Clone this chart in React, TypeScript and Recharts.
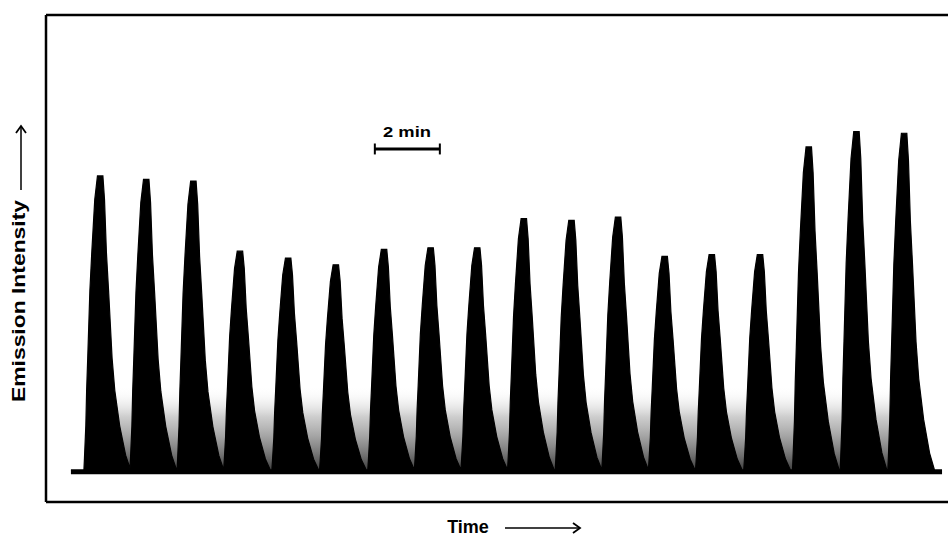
import { AreaChart, Area, XAxis, YAxis, ReferenceLine } from 'recharts';

// peak apex times (s) and heights (a.u.)
const peakTimes = [54, 139, 226, 312, 401, 489, 578, 664, 750, 836, 924, 1010, 1096, 1183, 1272, 1362, 1450, 1538];
const peakHeights = [86, 85, 84.5, 64, 62, 60, 64.5, 65, 65, 73.5, 73, 74, 62.5, 63, 63, 94.5, 99, 98.5];

// outline of a single peak: time offset from apex (s) and fraction of peak height
const shapeOffsets = [-30, -29, -26.5, -25, -23, -19, -15.5, -10, -5, 5, 8, 11.5, 15.5, 22, 27, 36, 47, 56];
const shapeLevels = [0, 0.04, 0.15, 0.27, 0.38, 0.61, 0.74, 0.92, 1, 1, 0.92, 0.74, 0.61, 0.38, 0.27, 0.15, 0.05, 0];

const traceStart = 0;
const traceEnd = 1608;
const hazeLevel = 24;

// "2 min" scale bar
const scaleBarTimes = [561, 681];
const scaleBarLevel = 93.9;
const scaleBarCap = [92.3, 95.5];

const xDomain = [-46, 1619];
const yDomain = [-9.4, 133.1];

const FONT = '"Liberation Sans", Arial, Helvetica, sans-serif';

const data: { t: number; v: number; haze: number }[] = [];
data.push({ t: traceStart, v: 0, haze: 0 });
peakTimes.forEach((pt, i) => {
  shapeOffsets.forEach((off, k) => {
    const t = pt + off;
    const inHaze = t >= peakTimes[0] && t <= peakTimes[peakTimes.length - 1];
    data.push({ t, v: peakHeights[i] * shapeLevels[k], haze: inHaze ? hazeLevel : 0 });
  });
});
data.push({ t: traceEnd, v: 0, haze: 0 });

export default function App() {
  return (
    <div style={{ position: 'absolute', left: 0, top: 0, width: 948, height: 538, background: '#fff' }}>
      <AreaChart width={948} height={538} data={data} margin={{ top: 15, right: 0, bottom: 36, left: 46 }}>
        <defs>
          <linearGradient id="haze" gradientUnits="userSpaceOnUse" x1="0" y1="386" x2="0" y2="474">
            <stop offset="0" stopColor="#ffffff" stopOpacity={0} />
            <stop offset="0.35" stopColor="#b8b8b8" stopOpacity={0.7} />
            <stop offset="0.7" stopColor="#7a7a7a" stopOpacity={0.9} />
            <stop offset="1" stopColor="#333333" stopOpacity={1} />
          </linearGradient>
        </defs>
        <XAxis dataKey="t" type="number" domain={xDomain} allowDataOverflow hide />
        <YAxis type="number" domain={yDomain} allowDataOverflow hide />
        <Area dataKey="haze" type="linear" fill="url(#haze)" fillOpacity={1} stroke="none" isAnimationActive={false} />
        <Area dataKey="v" type="linear" fill="#000" fillOpacity={1} stroke="#000" strokeWidth={1.2}
          baseValue={-1.3} isAnimationActive={false} />
        {/* frame: left, top, bottom */}
        <ReferenceLine x={xDomain[0]} stroke="#000" strokeWidth={2.5} />
        <ReferenceLine y={yDomain[1]} stroke="#000" strokeWidth={2.5} />
        <ReferenceLine y={yDomain[0]} stroke="#000" strokeWidth={2.5} />
        <ReferenceLine segment={[{ x: scaleBarTimes[0], y: scaleBarLevel }, { x: scaleBarTimes[1], y: scaleBarLevel }]}
          stroke="#000" strokeWidth={3} />
        <ReferenceLine segment={[{ x: scaleBarTimes[0], y: scaleBarCap[0] }, { x: scaleBarTimes[0], y: scaleBarCap[1] }]}
          stroke="#000" strokeWidth={2} />
        <ReferenceLine segment={[{ x: scaleBarTimes[1], y: scaleBarCap[0] }, { x: scaleBarTimes[1], y: scaleBarCap[1] }]}
          stroke="#000" strokeWidth={2} />
        <text x={407} y={137} textAnchor="middle" fontFamily={FONT} fontWeight="bold" fontSize={15}
          textLength={48} lengthAdjust="spacingAndGlyphs">2 min</text>
        <text x={468} y={533} textAnchor="middle" fontFamily={FONT} fontWeight="bold" fontSize={18}>Time</text>
        <line x1={505} y1={528} x2={580} y2={528} stroke="#000" strokeWidth={1.5} />
        <polyline points="573,523 580,528 573,533" fill="none" stroke="#000" strokeWidth={1.8} />
        <text x={0} y={0} transform="translate(25,301) rotate(-90)" textAnchor="middle" fontFamily={FONT}
          fontWeight="bold" fontSize={18} textLength={202} lengthAdjust="spacingAndGlyphs">Emission Intensity</text>
        <line x1={21} y1={190} x2={21} y2={127} stroke="#000" strokeWidth={1.5} />
        <polyline points="16,133 21,126 26,133" fill="none" stroke="#000" strokeWidth={1.8} />
      </AreaChart>
    </div>
  );
}
